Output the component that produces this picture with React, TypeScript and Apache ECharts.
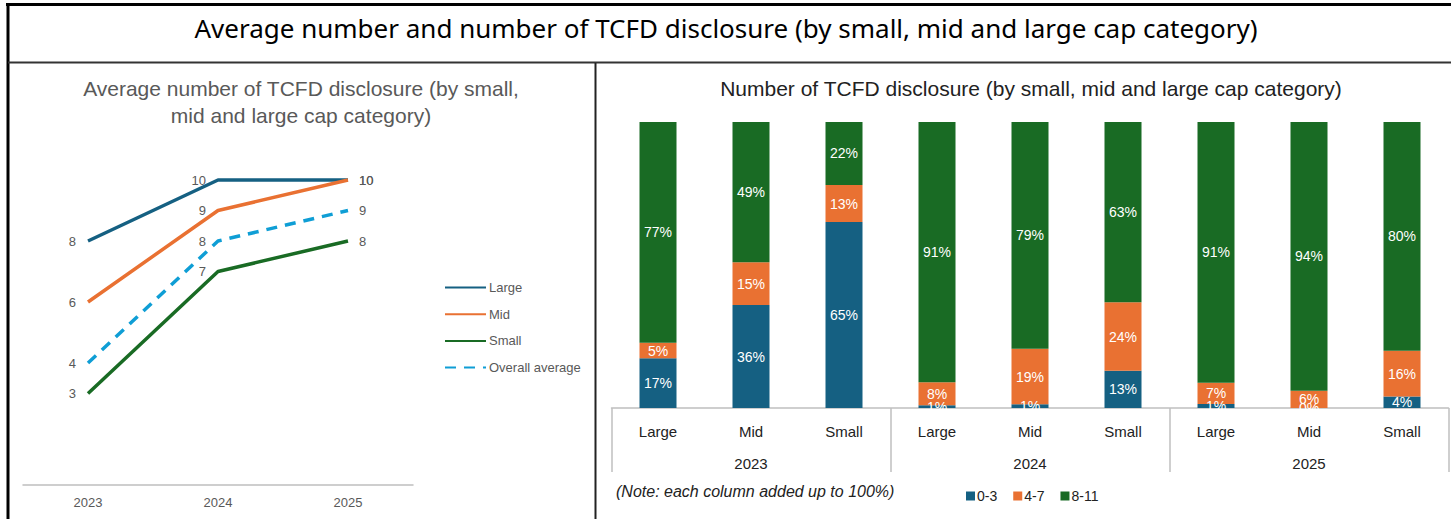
import React, { useEffect, useRef } from "react";
import * as echarts from "echarts";

const years = ["2023", "2024", "2025"];
const capLabels = ["Large", "Mid", "Small", "Large", "Mid", "Small", "Large", "Mid", "Small"];

// Left chart: average number of disclosures
const largeAvg = [8, 10, 10];
const midAvg = [6, 9, 10];
const smallAvg = [3, 7, 8];
const overallAvg = [4, 8, 9];

// Right chart: share of companies per disclosure band (%)
const band03 = [17.4, 36, 65, 1, 1.3, 13, 1.4, 0, 4];
const band47 = [5.4, 15, 13, 8, 19.4, 24, 7.4, 6, 16];
const band811 = [77.2, 49, 22, 91, 79.3, 63, 91.2, 94, 80];

const FONT = "'Liberation Sans', Arial, sans-serif";
const TITLE_FONT = "'Noto Sans', 'Liberation Sans', sans-serif";
const C_BLUE = "#156082";
const C_ORANGE = "#E97132";
const C_GREEN = "#196B24";
const C_LBLUE = "#0F9ED5";

function lineSeries(name: string, values: number[], color: string, dashed = false) {
  return {
    name,
    type: "line",
    xAxisIndex: 0,
    yAxisIndex: 0,
    symbol: "circle",
    symbolSize: 0.1,
    showSymbol: true,
    data: values.map((v, i) =>
      i === values.length - 1 ? { value: v, label: { position: "right", distance: 11 } } : v
    ),
    lineStyle: { color, width: 3.5, type: dashed ? [11, 8] : "solid" },
    itemStyle: { color },
    label: {
      show: true,
      position: "left",
      distance: 12,
      color: "#595959",
      fontSize: 13,
      fontFamily: FONT,
    },
  };
}

function barSeries(name: string, values: number[], color: string) {
  return {
    name,
    type: "bar",
    stack: "share",
    xAxisIndex: 1,
    yAxisIndex: 1,
    barWidth: 37,
    data: values,
    itemStyle: { color },
    label: {
      show: true,
      position: "inside",
      color: "#ffffff",
      fontSize: 14,
      fontFamily: FONT,
      formatter: (p: any) => Math.round(p.value) + "%",
    },
  };
}

export default function App() {
  const ref = useRef<HTMLDivElement>(null);
  useEffect(() => {
    if (!ref.current) return;
    const chart = echarts.init(ref.current, undefined, { renderer: "svg" });
    const option: any = {
      animation: false,
      backgroundColor: "#ffffff",
      textStyle: { fontFamily: FONT },
      grid: [
        { left: 23, top: 119, width: 390, height: 366 },
        { left: 611.5, top: 122, width: 837, height: 286 },
      ],
      xAxis: [
        {
          type: "category",
          gridIndex: 0,
          data: years,
          boundaryGap: true,
          axisLine: { lineStyle: { color: "#BFBFBF", width: 1.5 } },
          axisTick: { show: false },
          axisLabel: { color: "#595959", fontSize: 13, margin: 11, fontFamily: FONT },
        },
        {
          type: "category",
          gridIndex: 1,
          position: "bottom",
          data: capLabels,
          axisLine: { lineStyle: { color: "#BFBFBF", width: 1.5 } },
          axisTick: { show: false },
          axisLabel: { color: "#222222", fontSize: 15, margin: 16, fontFamily: FONT, interval: 0 },
        },
        {
          type: "category",
          gridIndex: 1,
          position: "bottom",
          data: years,
          axisLine: { show: false },
          axisTick: { show: true, length: 64, lineStyle: { color: "#BFBFBF", width: 1.5 } },
          axisLabel: { color: "#222222", fontSize: 15, margin: 48, fontFamily: FONT },
        },
      ],
      yAxis: [
        { type: "value", gridIndex: 0, min: 0, max: 12, show: false },
        { type: "value", gridIndex: 1, min: 0, max: 100, show: false },
      ],
      legend: [
        {
          data: ["Large", "Mid", "Small", "Overall average"],
          orient: "vertical",
          left: 439,
          top: 276,
          itemWidth: 41,
          itemHeight: 14,
          itemGap: 13.7,
          itemStyle: { color: "transparent", borderColor: "transparent", borderWidth: 0 },
          textStyle: { color: "#595959", fontSize: 13, fontFamily: FONT, padding: [0, 0, 0, -2] },
        },
        {
          data: ["0-3", "4-7", "8-11"],
          orient: "horizontal",
          left: 961,
          top: 484,
          icon: "rect",
          itemWidth: 9,
          itemHeight: 9,
          itemGap: 16,
          textStyle: { color: "#222222", fontSize: 14, fontFamily: FONT, padding: [0, 0, 0, -3] },
        },
      ],
      series: [
        lineSeries("Large", largeAvg, C_BLUE),
        lineSeries("Mid", midAvg, C_ORANGE),
        lineSeries("Small", smallAvg, C_GREEN),
        lineSeries("Overall average", overallAvg, C_LBLUE, true),
        barSeries("0-3", band03, C_BLUE),
        barSeries("4-7", band47, C_ORANGE),
        barSeries("8-11", band811, C_GREEN),
      ],
      graphic: [
        { type: "line", shape: { x1: 6, y1: 4.5, x2: 1451, y2: 4.5 }, style: { stroke: "#000", lineWidth: 3 } },
        { type: "line", shape: { x1: 8, y1: 3, x2: 8, y2: 519 }, style: { stroke: "#000", lineWidth: 3 } },
        { type: "line", shape: { x1: 8, y1: 62.5, x2: 1451, y2: 62.5 }, style: { stroke: "#333", lineWidth: 2 } },
        { type: "line", shape: { x1: 595.5, y1: 63, x2: 595.5, y2: 519 }, style: { stroke: "#222", lineWidth: 2 } },
        {
          type: "text",
          x: 726,
          y: 28,
          style: {
            text: "Average number and number of TCFD disclosure (by small, mid and large cap category)",
            fill: "#000",
            font: `26px ${TITLE_FONT}`,
            textAlign: "center",
            textVerticalAlign: "middle",
          },
        },
        {
          type: "text",
          x: 301,
          y: 102,
          style: {
            text: "Average number of TCFD disclosure (by small,\nmid and large cap category)",
            fill: "#595959",
            font: `21px ${FONT}`,
            lineHeight: 27,
            textAlign: "center",
            textVerticalAlign: "middle",
          },
        },
        {
          type: "text",
          x: 1031,
          y: 88,
          style: {
            text: "Number of TCFD disclosure (by small, mid and large cap category)",
            fill: "#222",
            font: `21px ${FONT}`,
            textAlign: "center",
            textVerticalAlign: "middle",
          },
        },
        {
          type: "text",
          x: 616,
          y: 491,
          style: {
            text: "(Note: each column added up to 100%)",
            fill: "#222",
            font: `italic 16px ${FONT}`,
            textAlign: "left",
            textVerticalAlign: "middle",
          },
        },
      ],
    };
    chart.setOption(option);
    return () => chart.dispose();
  }, []);
  return (
    <div
      ref={ref}
      style={{ position: "absolute", left: 0, top: 0, width: 1451, height: 519 }}
    />
  );
}
